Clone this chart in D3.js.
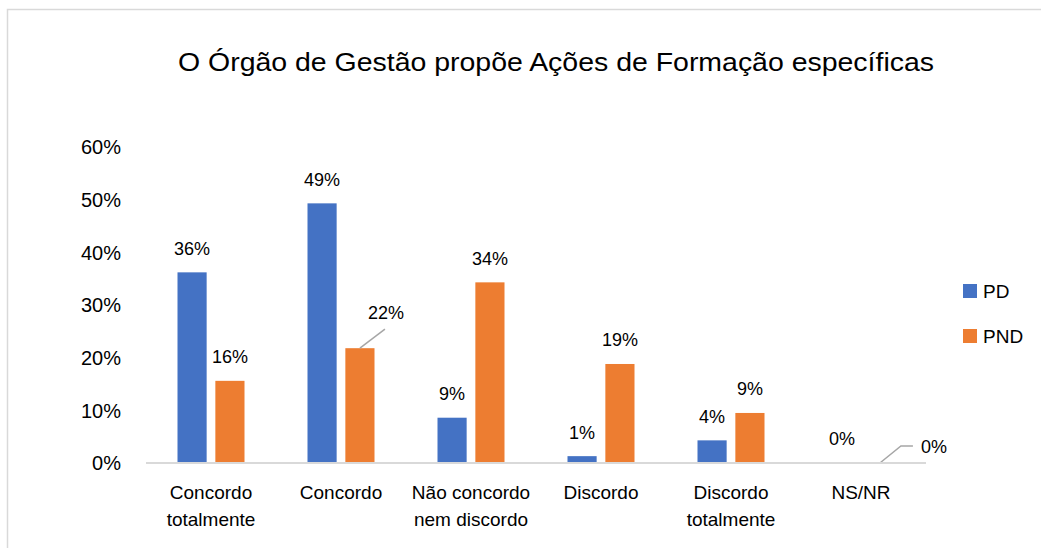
<!DOCTYPE html>
<html>
<head>
<meta charset="utf-8">
<script src="https://cdn.jsdelivr.net/npm/d3@7"></script>
<style>
  body { margin: 0; background: #fff; }
  svg { display: block; font-family: "Liberation Sans", Arial, sans-serif; }
</style>
</head>
<body>
<div id="chart"></div>
<script>
// data
var categories = [["Concordo", "totalmente"], ["Concordo"], ["Não concordo", "nem discordo"],
                  ["Discordo"], ["Discordo", "totalmente"], ["NS/NR"]];
var seriesNames = ["PD", "PND"];
var pdValues  = [36.2, 49.3, 8.6, 1.3, 4.3, 0];
var pndValues = [15.6, 21.8, 34.3, 18.8, 9.5, 0];
var pdLabels  = ["36%", "49%", "9%", "1%", "4%", "0%"];
var pndLabels = ["16%", "22%", "34%", "19%", "9%", "0%"];
var yTicks = [0, 10, 20, 30, 40, 50, 60];
var colors = ["#4472C4", "#ED7D31"];

var width = 1041, height = 548;
var margin = { top: 147, left: 146, right: 115, bottom: 85 };

var svg = d3.select("#chart").append("svg")
    .attr("width", width)
    .attr("height", height);

// chart frame (only top and left edges are visible in the crop)
svg.append("path")
    .attr("d", "M7.5,548 V9.5 H1041")
    .attr("fill", "none")
    .attr("stroke", "#d9d9d9")
    .attr("stroke-width", 1.5);

svg.append("text")
    .attr("x", 556)
    .attr("y", 71)
    .attr("text-anchor", "middle")
    .attr("textLength", 756)
    .attr("lengthAdjust", "spacingAndGlyphs")
    .style("font-size", "26px")
    .style("fill", "#000")
    .text("O Órgão de Gestão propõe Ações de Formação específicas");

var x0 = d3.scaleBand()
    .domain(d3.range(categories.length))
    .range([margin.left, width - margin.right])
    .paddingInner(0).paddingOuter(0);

var x1 = d3.scaleBand()
    .domain([0, 1])
    .range([-33.5, 33.5])
    .paddingInner(0.23);

var y = d3.scaleLinear()
    .domain([0, 60])
    .range([height - margin.bottom, margin.top]);

// y tick labels (no gridlines)
svg.append("g").selectAll("text")
    .data(yTicks)
    .join("text")
    .attr("x", 121)
    .attr("y", function(d) { return y(d); })
    .attr("dy", "0.36em")
    .attr("text-anchor", "end")
    .style("font-size", "20px")
    .style("fill", "#000")
    .text(function(d) { return d + "%"; });

var groups = svg.append("g").selectAll("g")
    .data(categories)
    .join("g")
    .attr("transform", function(d, i) { return "translate(" + (x0(i) + x0.bandwidth() / 2) + ",0)"; });

groups.each(function(c, i) {
    var g = d3.select(this);
    var vals = [pdValues[i], pndValues[i]];
    vals.forEach(function(v, s) {
        g.append("rect")
            .attr("x", x1(s))
            .attr("y", y(v))
            .attr("width", x1.bandwidth())
            .attr("height", y(0) - y(v))
            .attr("fill", colors[s]);
    });
});

// baseline
svg.append("line")
    .attr("x1", margin.left)
    .attr("x2", width - margin.right)
    .attr("y1", y(0))
    .attr("y2", y(0))
    .attr("stroke", "#d9d9d9")
    .attr("stroke-width", 2);

// data labels; a few of them are moved off the bar with a leader line
var labelShift = { "1-1": [26, -12], "5-1": [54, 8] };
groups.each(function(c, i) {
    var g = d3.select(this);
    var vals = [pdValues[i], pndValues[i]];
    var labs = [pdLabels[i], pndLabels[i]];
    vals.forEach(function(v, s) {
        var cx = x1(s) + x1.bandwidth() / 2;
        var top = y(v);
        var sh = labelShift[i + "-" + s] || [0, 0];
        if (labelShift[i + "-" + s]) {
            var pts = (i === 5)
                ? [[cx, top], [cx + 21, top - 17], [cx + 33, top - 17]]
                : [[cx, top], [cx + 25, top - 19]];
            g.append("polyline")
                .attr("points", pts.map(function(p) { return p.join(","); }).join(" "))
                .attr("fill", "none")
                .attr("stroke", "#a6a6a6")
                .attr("stroke-width", 1.5);
        }
        g.append("text")
            .attr("x", cx + sh[0])
            .attr("y", top - 24 + sh[1])
            .attr("dy", "0.36em")
            .attr("text-anchor", "middle")
            .style("font-size", "18px")
            .style("fill", "#000")
            .text(labs[s]);
    });
});

// category labels
groups.append("text")
    .attr("text-anchor", "middle")
    .style("font-size", "19px")
    .style("fill", "#000")
    .selectAll("tspan")
    .data(function(d) { return d; })
    .join("tspan")
    .attr("x", 0)
    .attr("y", function(d, k) { return 499 + k * 27; })
    .text(function(d) { return d; });

// legend
var legend = svg.append("g").selectAll("g")
    .data(seriesNames)
    .join("g")
    .attr("transform", function(d, i) { return "translate(963," + (284 + i * 45) + ")"; });

legend.append("rect")
    .attr("width", 14)
    .attr("height", 14)
    .attr("fill", function(d, i) { return colors[i]; });

legend.append("text")
    .attr("x", 20)
    .attr("y", 7)
    .attr("dy", "0.36em")
    .style("font-size", "19px")
    .style("fill", "#000")
    .text(function(d) { return d; });
</script>
</body>
</html>
